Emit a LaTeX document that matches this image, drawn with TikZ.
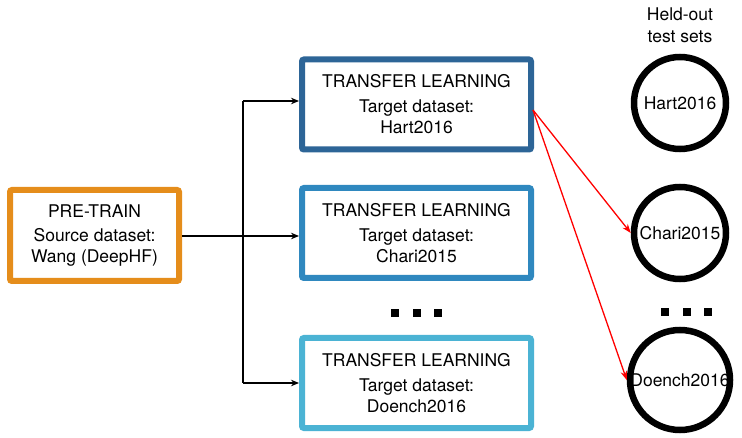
\documentclass[tikz,border=0pt]{standalone}
\usepackage{fontspec}
\setmainfont{TeX Gyre Heros}
\usetikzlibrary{arrows.meta}
\definecolor{pretrain}{HTML}{E58D1B}
\definecolor{tlA}{HTML}{2D6597}
\definecolor{tlB}{HTML}{2F88BF}
\definecolor{tlC}{HTML}{4BB3D4}
\begin{document}
\begin{tikzpicture}[x=1pt,y=-1pt,
  every node/.style={font=\fontsize{17.5}{21}\selectfont},
  stagebox/.style={draw, line width=6pt, rounded corners=2pt, fill=white,
    align=center, inner sep=0pt},
  tlbox/.style={stagebox, minimum width=229pt, minimum height=90pt},
  testset/.style={draw, circle, line width=6.5pt, minimum size=92pt, inner sep=0pt},
  feed/.style={-{Stealth[length=8pt,width=6.5pt]}, line width=1.3pt},
  evalarrow/.style={-{Stealth[length=9pt,width=6.5pt]}, line width=1.3pt, red},
  dot/.style={fill=black, minimum size=8pt, inner sep=0pt}
]
\useasboundingbox (0,0) rectangle (742,438);

% pre-training stage
\node[stagebox, draw=pretrain, minimum width=169pt, minimum height=91pt]
  (pre) at (94.5,235.5) {PRE-TRAIN\\[3pt] Source dataset:\\ Wang (DeepHF)};

% transfer learning stages
\node[tlbox, draw=tlA] (hart)   at (416.5,104.5) {TRANSFER LEARNING\\[4pt] Target dataset:\\ Hart2016};
\node[tlbox, draw=tlB] (chari)  at (416.5,233)   {TRANSFER LEARNING\\[4pt] Target dataset:\\ Chari2015};
\node[tlbox, draw=tlC] (doench) at (416.5,383)   {TRANSFER LEARNING\\[4pt] Target dataset:\\ Doench2016};

% held-out test sets
\node[align=center, font=\fontsize{17.5}{22}\selectfont] (heldout) at (680,25) {Held-out\\ test sets};
\node[testset] (thart)   at (680,103) {Hart2016};
\node[testset] (tchari)  at (680,233) {Chari2015};
\node[testset] (tdoench) at (680,380) {Doench2016};

% ellipsis markers
\foreach \x [count=\i] in {395,417,438} \node[dot] (md\i) at (\x,313) {};
\foreach \x [count=\i] in {665,687,708} \node[dot] (rd\i) at (\x,312) {};

% fan-out from pre-training
\coordinate (split) at (243,236);
\coordinate (splitT) at (243,101);
\coordinate (splitB) at (243,383);
\draw[line width=1.3pt] (pre.east |- split) -- (split);
\draw[line width=1.3pt] (splitT) -- (splitB);
\draw[feed] (splitT) -- (hart.west |- splitT);
\draw[feed] (split) -- (chari.west |- split);
\draw[feed] (splitB) -- (doench.west |- splitB);

% evaluation on held-out sets
\coordinate (out) at (533,110);
\draw[evalarrow] (out) -- (tchari.west);
\draw[evalarrow] (out) -- (tdoench.west);
\end{tikzpicture}
\end{document}
